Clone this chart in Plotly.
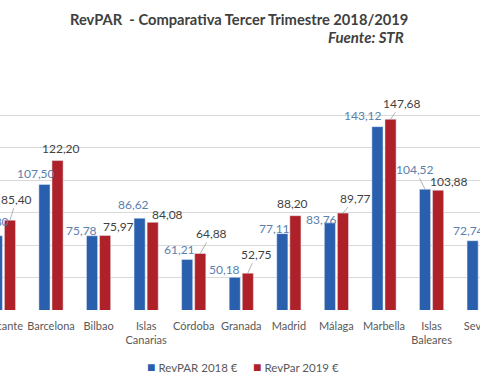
import plotly.graph_objects as go

categories = ["Alicante", "Barcelona", "Bilbao", "Islas<br>Canarias", "Córdoba", "Granada",
              "Madrid", "Málaga", "Marbella", "Islas<br>Baleares", "Sevilla"]
revpar_2018 = [75.80, 107.50, 75.78, 86.62, 61.21, 50.18, 77.11, 83.76, 143.12, 104.52, 72.74]
revpar_2019 = [85.40, 122.20, 75.97, 84.08, 64.88, 52.75, 88.20, 89.77, 147.68, 103.88, 76.10]
series_names = ["RevPAR 2018 €", "RevPar 2019 €"]

# label offsets in pixels (text centre relative to bar top), leader-line flags, visibility
off_2018 = [(-4, -14), (-8.5, -11), (-10.5, -5), (-6.5, -14), (-7.5, -10), (-10.5, -8),
            (-7.5, -5), (-8.5, -3), (-14, -11), (-10, -20), (-4.5, -10.5)]
lead_2018 = [0, 0, 0, 0, 0, 0, 0, 0, 0, 1, 0]
show_2018 = [1] * 11
off_2019 = [(6.5, -21), (3, -12), (13.5, -9), (14.5, -7.5), (11.5, -20), (8.5, -19),
            (-3, -12.5), (12.5, -15), (11, -16), (10.5, -8.5), (10, -10)]
lead_2019 = [1, 0, 0, 0, 1, 1, 0, 1, 1, 0, 0]
show_2019 = [1] * 10 + [0]   # Sevilla 2019 label lies outside the cropped view

BLUE = "#2a5fae"
RED = "#af2128"
BLUE_TXT = "#5a80ad"
RED_TXT = "#3f3f3f"
FONT = "Lato"
BARGAP = 0.45
GROUPGAP = 0.15
W, H = 480, 384
ML, MR = 0, 0
XRANGE = [-0.072, 10.018]

fig = go.Figure()
fig.add_trace(go.Bar(x=categories, y=revpar_2018, name=series_names[0], marker_color=BLUE,
                     showlegend=False))
fig.add_trace(go.Bar(x=categories, y=revpar_2019, name=series_names[1], marker_color=RED,
                     showlegend=False))

def fmt(v):
    return f"{v:.2f}".replace(".", ",")

px_per_cat = (W - ML - MR) / (XRANGE[1] - XRANGE[0])
half_px = (1 - BARGAP) / 4 * px_per_cat

annotations = []
for vals, offs, leads, shows, sign, col in [
        (revpar_2018, off_2018, lead_2018, show_2018, -1, BLUE_TXT),
        (revpar_2019, off_2019, lead_2019, show_2019, 1, RED_TXT)]:
    for i, (v, (dx, dy), ld, sh) in enumerate(zip(vals, offs, leads, shows)):
        if not sh:
            continue
        annotations.append(dict(
            x=i, y=v, xref="x", yref="y", xshift=sign * half_px, text=fmt(v),
            showarrow=True, ax=dx, ay=dy, axref="pixel", ayref="pixel",
            arrowhead=0, arrowwidth=0.8, standoff=0,
            arrowcolor="#a0a0a0" if ld else "rgba(0,0,0,0)",
            font=dict(family=FONT, size=12, color=col)))

annotations.append(dict(x=0.498, y=1.282, xref="paper", yref="paper", xanchor="center", yanchor="middle",
                        text="<b>RevPAR  - Comparativa Tercer Trimestre 2018/2019</b>", showarrow=False,
                        font=dict(family=FONT, size=14.7, color="#404040")))
annotations.append(dict(x=0.846, y=1.203, xref="paper", yref="paper", xanchor="right", yanchor="middle",
                        text="<b><i>Fuente: STR</i></b>", showarrow=False,
                        font=dict(family=FONT, size=15, color="#404040")))

# legend drawn as text entries
for name, color, xpos in [(series_names[0], BLUE, 0.302), (series_names[1], RED, 0.523)]:
    annotations.append(dict(x=xpos, y=-0.251, xref="paper", yref="paper", xanchor="left",
                            yanchor="middle", showarrow=False,
                            text=f"<span style='color:{color};font-size:14px'>■</span> {name}",
                            font=dict(family=FONT, size=11.5, color="#595959")))

fig.update_layout(
    width=W, height=H,
    margin=dict(l=ML, r=MR, t=83, b=74),
    paper_bgcolor="white", plot_bgcolor="white",
    barmode="group", bargap=BARGAP, bargroupgap=GROUPGAP,
    font=dict(family=FONT, size=11, color="#595959"),
    showlegend=False,
    annotations=annotations,
    xaxis=dict(type="category", range=XRANGE, showgrid=False, showline=False, tickangle=0,
               automargin=False, ticks="", ticklabelstandoff=8,
               tickfont=dict(family=FONT, size=11, color="#595959")),
    yaxis=dict(range=[30, 170.05], tick0=30, dtick=20, showgrid=True, gridcolor="#d9d9d9",
               gridwidth=1, showticklabels=False, zeroline=False, showline=False,
               automargin=False),
)

fig.write_html("out.html", config={"displayModeBar": False},
               post_script="document.body.style.margin='0';")
